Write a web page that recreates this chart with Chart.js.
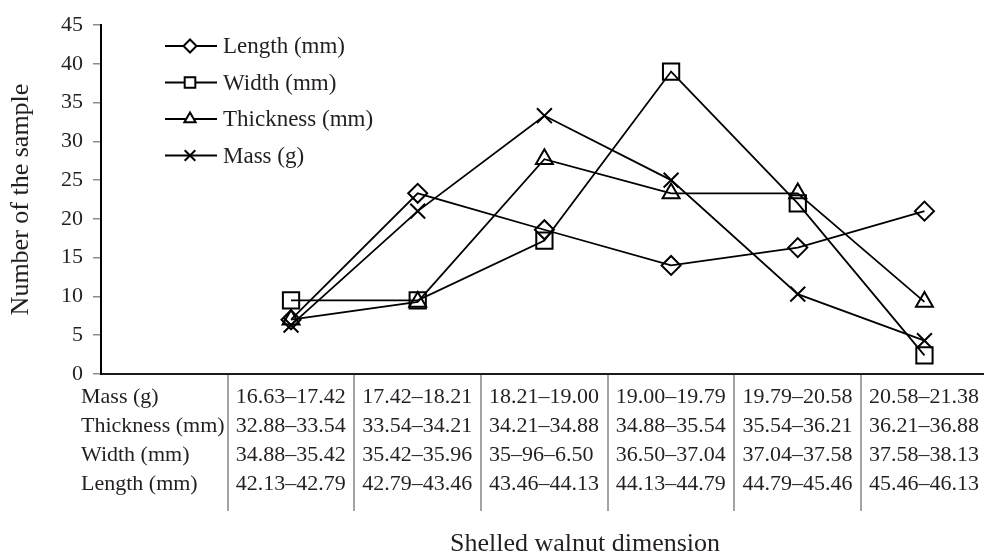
<!DOCTYPE html>
<html>
<head>
<meta charset="utf-8">
<title>Shelled walnut dimension</title>
<script src="https://cdn.jsdelivr.net/npm/chart.js@4/dist/chart.umd.min.js"></script>
<style>
  html, body { margin: 0; padding: 0; background: #ffffff; }
  #wrap { width: 984px; height: 554px; }
</style>
</head>
<body>
<div id="wrap"><canvas id="chart" width="984" height="554"></canvas></div>
<script>
// Class index (0..5) for the six size classes
const classIndex = [0, 1, 2, 3, 4, 5];

// Number of samples falling in each class
const lengthCounts    = [7.0, 23.3, 18.6, 14.0, 16.3, 21.0];
const widthCounts     = [9.5, 9.5, 17.2, 39.0, 22.0, 2.4];
const thicknessCounts = [7.0, 9.3, 27.7, 23.3, 23.3, 9.3];
const massCounts      = [6.3, 21.0, 33.3, 25.0, 10.3, 4.3];

// Class ranges shown in the table under the axis
const rowLabels = ['Mass (g)', 'Thickness (mm)', 'Width (mm)', 'Length (mm)'];
const massRanges      = ['16.63–17.42', '17.42–18.21', '18.21–19.00', '19.00–19.79', '19.79–20.58', '20.58–21.38'];
const thicknessRanges = ['32.88–33.54', '33.54–34.21', '34.21–34.88', '34.88–35.54', '35.54–36.21', '36.21–36.88'];
const widthRanges     = ['34.88–35.42', '35.42–35.96', '35–96–6.50', '36.50–37.04', '37.04–37.58', '37.58–38.13'];
const lengthRanges    = ['42.13–42.79', '42.79–43.46', '43.46–44.13', '44.13–44.79', '44.79–45.46', '45.46–46.13'];

// Y axis ticks
const yTicks = [0, 5, 10, 15, 20, 25, 30, 35, 40, 45];

const seriesNames = ['Length (mm)', 'Width (mm)', 'Thickness (mm)', 'Mass (g)'];

const FONT = '"Liberation Serif", "Times New Roman", serif';
const INK = '#231f20';

const toPoints = vals => classIndex.map((x, i) => ({ x: x, y: vals[i] }));

const markerStyles = [
  { pointStyle: 'rectRot',  radius: 9.5,  legendRadius: 6.5 },
  { pointStyle: 'rect',     radius: 11.5, legendRadius: 7.5 },
  { pointStyle: 'triangle', radius: 9.8,  legendRadius: 6.5 },
  { pointStyle: 'crossRot', radius: 10.5, legendRadius: 7.5 }
];

const seriesValues = [lengthCounts, widthCounts, thicknessCounts, massCounts];

const datasets = seriesNames.map((name, k) => ({
  label: name,
  data: toPoints(seriesValues[k]),
  borderColor: '#000000',
  borderWidth: 1.8,
  backgroundColor: 'rgba(0,0,0,0)',
  pointStyle: markerStyles[k].pointStyle,
  pointRadius: markerStyles[k].radius,
  pointHoverRadius: markerStyles[k].radius,
  pointBorderColor: '#000000',
  pointBackgroundColor: 'rgba(0,0,0,0)',
  pointBorderWidth: 2,
  tension: 0,
  fill: false
}));

// Simple marker painter for the legend keys
function paintMarker(ctx, style, x, y, r) {
  ctx.beginPath();
  if (style === 'rectRot') {
    ctx.moveTo(x, y - r); ctx.lineTo(x + r, y); ctx.lineTo(x, y + r); ctx.lineTo(x - r, y); ctx.closePath();
    ctx.fill(); ctx.stroke();
  } else if (style === 'rect') {
    const s = r * Math.SQRT1_2;
    ctx.rect(x - s, y - s, 2 * s, 2 * s);
    ctx.fill(); ctx.stroke();
  } else if (style === 'triangle') {
    const h = r * Math.sqrt(3) / 2;
    ctx.moveTo(x, y - r); ctx.lineTo(x + h, y + r / 2); ctx.lineTo(x - h, y + r / 2); ctx.closePath();
    ctx.fill(); ctx.stroke();
  } else {
    const d = r * Math.SQRT1_2;
    ctx.moveTo(x - d, y - d); ctx.lineTo(x + d, y + d);
    ctx.moveTo(x + d, y - d); ctx.lineTo(x - d, y + d);
    ctx.stroke();
  }
}

const legendPlugin = {
  id: 'lineLegend',
  afterDraw(chart) {
    const ctx = chart.ctx;
    const rowsY = [46, 82.5, 119, 155.5];
    ctx.save();
    ctx.font = '23px ' + FONT;
    ctx.textBaseline = 'middle';
    ctx.textAlign = 'left';
    seriesNames.forEach((name, k) => {
      const y = rowsY[k];
      ctx.strokeStyle = '#000';
      ctx.lineWidth = 2;
      ctx.beginPath(); ctx.moveTo(165, y); ctx.lineTo(217, y); ctx.stroke();
      ctx.fillStyle = '#fff';
      paintMarker(ctx, markerStyles[k].pointStyle, 190, y, markerStyles[k].legendRadius);
      ctx.fillStyle = INK;
      ctx.fillText(name, 223, y + 1);
    });
    ctx.restore();
  }
};

const tablePlugin = {
  id: 'rangeTable',
  afterDraw(chart) {
    const ctx = chart.ctx;
    const xs = chart.scales.x;
    const base = chart.scales.y.getPixelForValue(0);
    const rows = [massRanges, thicknessRanges, widthRanges, lengthRanges];
    ctx.save();
    // column separators
    ctx.strokeStyle = '#8c8c8c';
    ctx.lineWidth = 1.6;
    for (let i = 0; i < classIndex.length; i++) {
      const px = Math.round(xs.getPixelForValue(classIndex[i] - 0.5));
      ctx.beginPath(); ctx.moveTo(px, base + 1); ctx.lineTo(px, base + 137); ctx.stroke();
    }
    ctx.font = '22px ' + FONT;
    ctx.fillStyle = INK;
    ctx.textBaseline = 'alphabetic';
    ctx.textAlign = 'left';
    rows.forEach((vals, r) => {
      const by = base + 29 + r * 29;
      ctx.fillText(rowLabels[r], 81, by);
      vals.forEach((t, i) => {
        ctx.fillText(t, xs.getPixelForValue(classIndex[i] - 0.5) + 8, by);
      });
    });
    // axis title under the table
    ctx.font = '26px ' + FONT;
    ctx.textAlign = 'center';
    ctx.fillText('Shelled walnut dimension', 585, 551);
    ctx.restore();
  }
};

new Chart(document.getElementById('chart'), {
  type: 'line',
  data: { datasets: datasets },
  plugins: [legendPlugin, tablePlugin],
  options: {
    responsive: false,
    animation: false,
    devicePixelRatio: 1,
    layout: { autoPadding: false, padding: { top: 25, right: 0, left: 0, bottom: 0 } },
    plugins: { legend: { display: false }, tooltip: { enabled: false } },
    scales: {
      x: {
        type: 'linear',
        min: -1.5,
        max: 5.47,
        grid: { display: false, drawTicks: false },
        border: { display: true, color: '#1a1a1a', width: 2 },
        ticks: { display: false },
        afterFit(scale) { scale.height = 180; }
      },
      y: {
        min: 0,
        max: 45,
        afterBuildTicks(scale) { scale.ticks = yTicks.map(v => ({ value: v })); },
        grid: { drawOnChartArea: false, drawTicks: true, tickLength: 8, color: '#8c8c8c', lineWidth: 1.5 },
        border: { display: true, color: '#000', width: 2 },
        ticks: { color: INK, font: { family: FONT, size: 22 }, padding: 10 },
        title: {
          display: true,
          text: 'Number of the sample',
          color: INK,
          font: { family: FONT, size: 26 },
          padding: { top: 6, bottom: 0 }
        },
        afterFit(scale) { scale.width = 101; }
      }
    }
  }
});
</script>
</body>
</html>
